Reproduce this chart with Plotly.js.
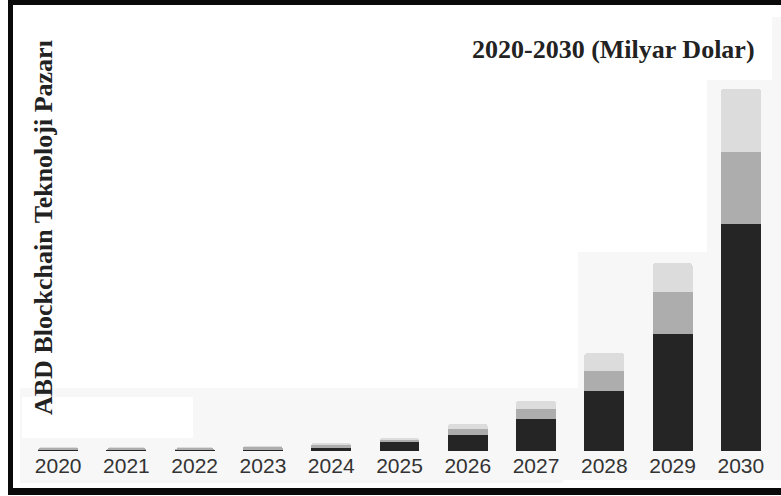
<!DOCTYPE html>
<html>
<head>
<meta charset="utf-8">
<script src="https://cdn.plot.ly/plotly-3.0.1.min.js"></script>
<style>
html,body{margin:0;padding:0;background:#fff;}
#chart{width:781px;height:496px;}
</style>
</head>
<body>
<div id="chart"></div>
<script>
// ---- data ----
var years = ["2020","2021","2022","2023","2024","2025","2026","2027","2028","2029","2030"];
var seriesDark  = [0.10, 0.10, 0.10, 0.15, 0.35, 0.90, 1.6, 3.2, 6.0, 11.7, 22.7];
var seriesMid   = [0.20, 0.18, 0.18, 0.25, 0.25, 0.20, 0.6, 1.0, 2.0, 4.2, 7.2];
var seriesLight = [0.10, 0.08, 0.08, 0.15, 0.25, 0.20, 0.5, 0.85, 1.8, 2.9, 6.3];
var titleText = "2020-2030 (Milyar Dolar)";
var yTitleText = "ABD Blockchain Teknoloji Pazarı";

// ---- layout geometry ----
var W = 781, H = 496;
var M = {l: 24, r: 6, t: 20, b: 45};
var PW = W - M.l - M.r, PH = H - M.t - M.b;
function px(x){ return (x - M.l) / PW; }
function py(y){ return (H - M.b - y) / PH; }
function rect(x0, y0, x1, y1, color, layer){
  return {type:'rect', xref:'paper', yref:'paper', x0:px(x0), x1:px(x1), y0:py(y1), y1:py(y0),
          fillcolor:color, line:{width:0}, layer:layer||'below'};
}

var bg = '#f7f7f7';
var shapes = [
  rect(20, 388, 563, 483, bg),
  rect(563, 388, 781, 480, bg),
  rect(22, 397, 193, 438, '#ffffff'),
  rect(578, 252, 781, 388, bg),
  rect(707, 80, 781, 252, bg),
  rect(772, 17, 781, 80, bg),
  // frame
  rect(8, 0, 781, 5, '#0a0a0a', 'above'),
  rect(8, 0, 13, 495, '#0a0a0a', 'above'),
  rect(8, 488, 781, 495, '#0a0a0a', 'above')
];

function bar(vals, color){
  return {type:'bar', x: years, y: vals, marker:{color: color, line:{width:0}}, hoverinfo:'skip'};
}
var data = [bar(seriesDark, '#252525'), bar(seriesMid, '#adadad'), bar(seriesLight, '#dcdcdc')];

var layout = {
  width: W, height: H,
  margin: M,
  barmode: 'stack',
  bargap: 0.415,
  barcornerradius: 3,
  showlegend: false,
  paper_bgcolor: '#ffffff',
  plot_bgcolor: 'rgba(0,0,0,0)',
  xaxis: {type:'category', range:[-0.5, 10.5], showgrid:false, zeroline:false, showline:false,
          ticks:'', tickfont:{family:'Liberation Sans, Arial, sans-serif', size:21, color:'#333333'}, fixedrange:true},
  yaxis: {range:[0, PH/10], visible:false, showgrid:false, zeroline:false, fixedrange:true},
  shapes: shapes,
  annotations: [
    {text: titleText, xref:'paper', yref:'paper', x: px(757), y: py(49), xanchor:'right', yanchor:'middle',
     showarrow:false, font:{family:'Liberation Serif, Times New Roman, serif', size:26, color:'#222222', weight:'bold'}},
    {text: yTitleText, xref:'paper', yref:'paper', x: px(43), y: py(228), xanchor:'center', yanchor:'middle',
     textangle:-90, showarrow:false, font:{family:'Liberation Serif, Times New Roman, serif', size:26, color:'#222222', weight:'bold'}}
  ]
};

Plotly.newPlot('chart', data, layout, {displayModeBar:false, staticPlot:true});
</script>
</body>
</html>
